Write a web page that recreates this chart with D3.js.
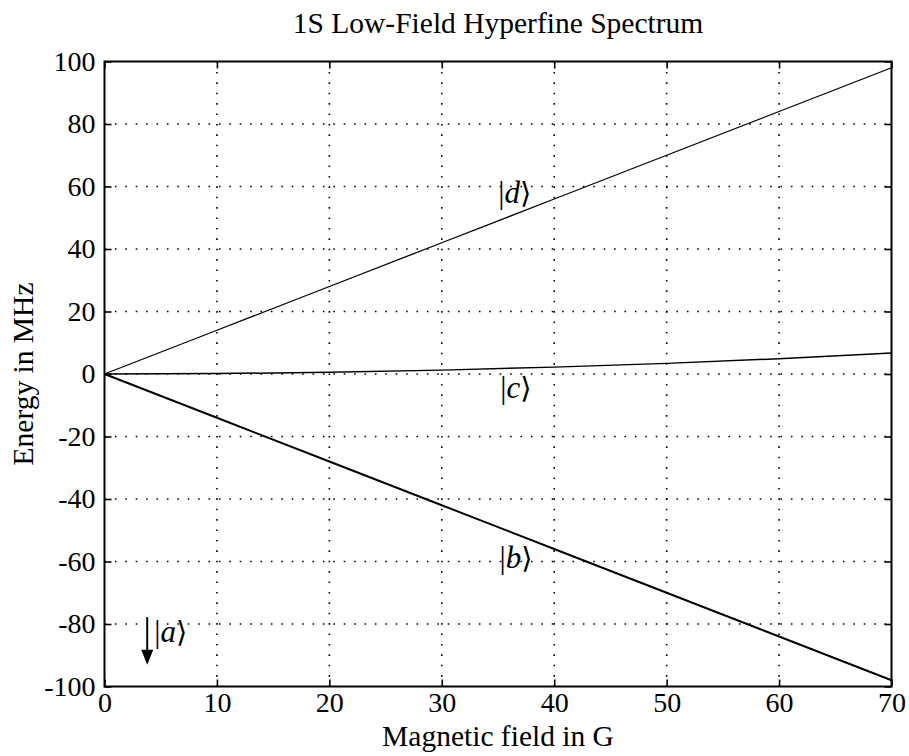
<!DOCTYPE html>
<html><head><meta charset="utf-8">
<script src="https://cdn.jsdelivr.net/npm/d3@7"></script>
<style>body{margin:0;background:#fff;} text{font-family:"Liberation Serif","DejaVu Serif",serif;fill:#000;}</style>
</head><body><svg id="c" width="909" height="756"></svg>
<script>
const fieldG = [0, 10, 20, 30, 40, 50, 60, 70];
const stateD = [0, 14, 28, 42, 56, 70, 84, 98];
const stateC = [0, 0.14, 0.55, 1.24, 2.2, 3.4, 4.9, 6.7];
const stateB = [0, -14, -28, -42, -56, -70, -84, -98];
const xTicks = [0, 10, 20, 30, 40, 50, 60, 70];
const yTicks = [-100, -80, -60, -40, -20, 0, 20, 40, 60, 80, 100];
const stateLabels = [
  {name: "d", x: 36.5, y: 58},
  {name: "c", x: 36.6, y: -4.5},
  {name: "b", x: 36.6, y: -59},
  {name: "a", x: 5.9, y: -82.6}
];
const arrowA = {x: 3.8, y0: -77.8, y1: -93};

const svg = d3.select("#c");
const L = 104.5, R = 891.5, T = 61.5, B = 686.5;
const x = d3.scaleLinear().domain([0, 70]).range([L, R]);
const y = d3.scaleLinear().domain([-100, 100]).range([B, T]);

// grid
const g = svg.append("g");
g.selectAll("line.vx").data(xTicks.filter(d => d > 0 && d < 70)).join("line")
  .attr("x1", d => x(d)).attr("x2", d => x(d)).attr("y1", T).attr("y2", B)
  .attr("stroke", "#000").attr("stroke-width", 1.6).attr("stroke-dasharray", "1.6,8.8");
g.selectAll("line.hy").data(yTicks.filter(d => d > -100 && d < 100)).join("line")
  .attr("y1", d => y(d)).attr("y2", d => y(d)).attr("x1", L).attr("x2", R)
  .attr("stroke", "#000").attr("stroke-width", 1.6).attr("stroke-dasharray", "1.6,8.8");

// axes
const tl = 7;
const fmt = d => String(d);
const axB = d3.axisBottom(x).tickValues(xTicks).tickFormat(fmt).tickSizeInner(-tl).tickSizeOuter(0).tickPadding(6);
const axL = d3.axisLeft(y).tickValues(yTicks).tickFormat(fmt).tickSizeInner(-tl).tickSizeOuter(0).tickPadding(9);
const axT = d3.axisTop(x).tickValues(xTicks).tickSizeInner(-tl).tickSizeOuter(0).tickFormat("");
const axR = d3.axisRight(y).tickValues(yTicks).tickSizeInner(-tl).tickSizeOuter(0).tickFormat("");
function style(sel){
  sel.select(".domain").remove();
  sel.selectAll(".tick line").attr("stroke", "#000").attr("stroke-width", 1.6);
  sel.selectAll(".tick text").attr("font-size", 28).attr("font-family", "Liberation Serif");
}
svg.append("g").attr("transform", `translate(0,${B})`).call(axB).call(style);
svg.append("g").attr("transform", `translate(${L},0)`).call(axL).call(style);
svg.append("g").attr("transform", `translate(0,${T})`).call(axT).call(style);
svg.append("g").attr("transform", `translate(${R},0)`).call(axR).call(style);
svg.selectAll(".tick text").attr("fill", "#000");

// lines
const line = d3.line().x((d, i) => x(fieldG[i])).y(d => y(d));
svg.append("path").datum(stateD).attr("d", line).attr("fill", "none").attr("stroke", "#000").attr("stroke-width", 1.3);
svg.append("path").datum(stateC).attr("d", line).attr("fill", "none").attr("stroke", "#000").attr("stroke-width", 1.5);
svg.append("path").datum(stateB).attr("d", line).attr("fill", "none").attr("stroke", "#000").attr("stroke-width", 1.9);

// box
svg.append("rect").attr("x", L).attr("y", T).attr("width", R - L).attr("height", B - T)
  .attr("fill", "none").attr("stroke", "#000").attr("stroke-width", 2);

// state labels
stateLabels.forEach(s => {
  const t = svg.append("text").attr("x", x(s.x)).attr("y", y(s.y) + 10)
    .attr("text-anchor", "middle").attr("font-size", 31);
  t.append("tspan").text("|");
  t.append("tspan").attr("font-style", "italic").text(s.name);
  t.append("tspan").attr("font-family", "DejaVu Sans").attr("font-size", 29).text("\u27E9");
});

// arrow for |a>
svg.append("line").attr("x1", x(arrowA.x)).attr("x2", x(arrowA.x))
  .attr("y1", y(arrowA.y0)).attr("y2", y(arrowA.y1) - 12)
  .attr("stroke", "#000").attr("stroke-width", 2);
const ax0 = x(arrowA.x), ay1 = y(arrowA.y1);
svg.append("path").attr("d", `M${ax0 - 6},${ay1 - 15} L${ax0 + 6},${ay1 - 15} L${ax0},${ay1} Z`).attr("fill", "#000");

// titles
svg.append("text").attr("x", (L + R) / 2).attr("y", 33).attr("text-anchor", "middle")
  .attr("font-size", 29.5).text("1S Low-Field Hyperfine Spectrum");
svg.append("text").attr("x", (L + R) / 2).attr("y", 746).attr("text-anchor", "middle")
  .attr("font-size", 29.5).text("Magnetic field in G");
svg.append("text").attr("transform", `translate(33,${(T + B) / 2}) rotate(-90)`).attr("text-anchor", "middle")
  .attr("font-size", 29.5).text("Energy in MHz");
</script></body></html>
